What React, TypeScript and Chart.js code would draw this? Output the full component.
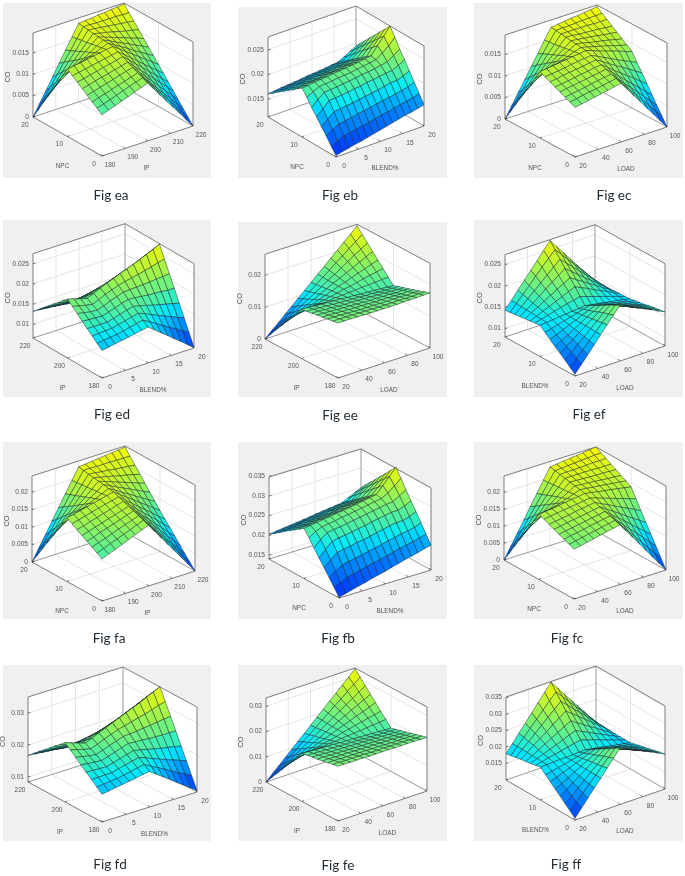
import React, { useEffect, useRef } from "react";
import { Chart, registerables } from "chart.js";

Chart.register(...registerables);

// ---- axis ticks ----
const IP_FINE = [180, 190, 200, 210, 220];
const IP_COARSE = [180, 200, 220];
const NPC = [0, 10, 20];
const BLEND_FINE = [0, 5, 10, 15, 20];
const BLEND_COARSE = [0, 10, 20];
const LOAD = [20, 40, 60, 80, 100];

// ---- CO surfaces in units of 0.0001; rows run along the v axis, columns along the u axis ----
const Z_EA = [
  [96,102,107,113,118,124,129,135,116,96,77,58,39,19,0],
  [105,110,115,120,126,131,136,141,123,105,87,69,50,32,14],
  [113,118,122,127,132,136,141,146,129,112,95,78,62,45,28],
  [122,126,131,135,139,144,148,152,136,121,105,89,73,58,42],
  [131,135,139,143,146,150,154,158,143,129,114,100,85,71,56],
  [140,143,147,150,154,157,161,164,151,137,124,110,97,83,70],
  [148,151,154,157,160,163,166,169,157,145,133,120,108,96,84],
  [157,160,162,165,168,170,173,175,164,153,142,131,120,109,98],
  [135,141,147,153,159,164,170,176,167,158,149,139,130,121,112],
  [112,121,131,140,149,158,168,177,170,162,155,148,140,133,125],
  [90,103,115,128,140,153,166,178,172,167,161,156,150,145,139],
  [67,83,99,115,131,147,163,179,175,172,168,164,160,157,153],
  [45,64,84,103,123,142,162,181,179,177,175,173,171,169,167],
  [22,45,68,91,114,136,159,182,182,181,181,181,181,180,180],
  [0,26,52,78,105,131,157,183,185,186,188,189,191,192,194],
];
const Z_EB = [
  [117,120,123,126,128,131,134,137,140,143,146,149,151,154,157],
  [130,136,142,144,146,149,151,154,157,159,162,165,167,170,174],
  [145,153,160,162,164,167,169,171,174,176,178,181,183,186,191],
  [158,169,179,181,182,184,186,188,190,192,195,197,198,202,208],
  [172,184,196,197,198,200,202,203,206,207,209,211,212,218,225],
  [185,197,207,208,209,211,212,214,216,217,219,221,224,232,241],
  [200,207,213,214,215,217,218,219,221,223,225,227,236,246,259],
  [213,214,216,217,218,220,221,222,224,225,227,229,245,260,276],
  [206,207,209,210,211,213,214,215,217,218,220,221,236,250,264],
  [198,199,201,202,203,205,206,207,209,210,212,214,227,239,253],
  [191,192,194,195,196,198,199,200,202,203,205,206,218,229,241],
  [183,185,186,187,189,190,191,192,194,195,197,198,209,219,230],
  [176,177,179,180,181,182,184,185,186,188,189,190,199,209,218],
  [168,170,171,172,174,175,176,177,179,180,182,183,190,198,207],
  [161,162,164,165,166,167,169,170,171,172,174,175,181,188,195],
];
const Z_EC = [
  [115,118,121,124,127,130,133,136,117,97,78,58,39,19,0],
  [121,124,127,130,132,135,138,141,124,106,89,71,54,36,19],
  [126,129,131,134,137,140,142,145,130,114,99,84,68,53,37],
  [132,135,137,140,142,145,147,150,137,123,110,96,83,69,56],
  [137,139,142,144,147,149,152,154,143,131,120,109,98,86,75],
  [143,145,148,150,152,154,157,159,150,140,131,122,113,103,94],
  [148,150,152,154,157,159,161,163,156,148,141,133,126,119,112],
  [154,156,158,160,162,164,166,168,163,157,152,147,142,136,131],
  [132,137,143,148,153,158,164,169,165,161,157,153,148,144,140],
  [110,119,127,136,145,154,162,171,168,164,161,158,155,151,148],
  [88,100,112,124,136,148,160,172,170,168,166,164,161,159,157],
  [66,81,97,112,128,143,158,174,173,171,170,169,168,166,165],
  [44,63,81,100,119,138,156,175,175,175,175,175,174,174,174],
  [22,44,66,88,111,133,155,177,178,178,179,180,181,181,182],
  [0,25,51,76,102,127,153,178,180,182,184,185,187,189,191],
];
const Z_ED = [
  [134,137,140,143,146,149,152,155,143,130,118,105,93,80,68],
  [145,147,149,151,154,158,162,165,156,146,136,126,117,107,97],
  [156,157,158,159,163,167,171,175,169,161,154,147,140,133,127],
  [167,167,167,167,171,176,181,185,181,177,172,168,164,160,156],
  [178,177,176,175,180,185,191,195,194,192,190,189,188,186,186],
  [190,187,184,183,188,195,200,206,207,208,209,210,212,213,215],
  [201,197,193,190,196,204,210,216,220,224,227,231,235,240,244],
  [212,207,202,198,205,213,220,226,233,239,245,252,259,266,274],
  [201,196,192,188,194,200,206,211,217,223,228,235,242,249,257],
  [189,185,181,178,182,187,192,195,201,206,212,218,225,232,240],
  [178,174,171,168,171,174,178,180,185,190,195,201,208,215,223],
  [166,163,160,158,160,161,164,164,169,174,179,184,191,198,206],
  [155,153,150,148,149,149,150,149,153,157,162,167,174,181,189],
  [143,142,140,138,137,136,135,134,137,141,146,150,157,164,172],
  [132,131,129,128,126,123,121,118,121,125,129,133,140,147,155],
];
const Z_EE = [
  [172,172,172,171,171,170,170,170,170,170,171,171,171,172,172],
  [169,169,169,168,168,167,167,166,166,166,167,166,166,167,167],
  [167,167,166,165,164,163,163,163,162,162,162,162,161,162,161],
  [164,164,163,162,161,160,160,159,158,158,158,157,156,157,156],
  [162,161,160,159,158,157,156,155,154,154,153,153,151,152,150],
  [159,159,157,156,154,153,153,152,151,150,149,148,147,146,145],
  [156,156,154,153,151,150,149,148,147,145,145,143,142,141,140],
  [154,153,151,150,148,147,146,144,143,141,140,139,137,136,134],
  [132,134,135,137,137,139,141,142,144,145,147,148,149,151,152],
  [110,115,118,123,127,132,136,140,145,148,153,158,162,166,170],
  [88,96,102,110,116,124,131,138,146,152,160,167,174,181,188],
  [66,77,86,96,106,116,126,136,147,156,166,176,186,196,206],
  [44,58,70,83,95,108,121,134,147,159,173,186,199,211,224],
  [22,38,53,70,84,101,116,132,148,163,180,195,211,226,242],
  [0,19,37,56,74,93,111,130,149,167,186,204,223,241,260],
];
const Z_EF = [
  [84,102,120,138,157,175,193,211,204,196,189,182,175,167,160],
  [94,110,125,141,157,173,188,204,197,191,184,178,171,165,158],
  [104,117,131,144,158,171,185,198,192,186,180,174,168,162,156],
  [114,125,136,147,158,169,180,191,186,180,175,170,165,159,154],
  [123,132,140,149,158,167,175,184,179,175,170,165,161,156,151],
  [133,139,146,152,158,165,171,177,173,169,165,161,157,153,149],
  [143,147,151,155,159,163,167,171,168,164,161,157,154,150,147],
  [153,155,156,158,159,161,162,164,161,159,156,153,151,148,145],
  [152,156,160,164,168,172,175,179,174,169,164,159,154,149,144],
  [150,156,163,169,176,182,189,195,188,181,173,166,159,151,144],
  [149,158,166,175,184,193,201,210,200,191,181,172,162,153,143],
  [147,158,169,180,192,203,214,225,213,201,189,177,166,154,142],
  [146,159,173,186,200,213,227,240,226,212,198,184,170,156,142],
  [144,160,176,192,209,225,241,256,240,223,207,190,174,157,141],
  [143,161,180,198,216,234,253,271,252,234,215,196,178,159,140],
];
const Z_FA = [
  [120,128,135,143,151,159,166,174,149,124,99,75,50,25,0],
  [129,136,144,151,158,165,173,180,157,133,110,87,64,40,17],
  [138,145,151,158,165,172,178,185,163,142,120,98,76,55,33],
  [147,153,160,166,172,178,185,191,171,151,131,111,90,70,50],
  [155,161,167,173,179,184,190,196,178,159,141,122,104,85,67],
  [164,169,175,180,186,191,197,202,185,168,151,135,118,101,84],
  [173,178,183,188,193,198,202,207,192,176,161,146,131,115,100],
  [182,186,191,195,200,204,209,213,199,186,172,158,145,131,117],
  [156,164,173,181,190,198,206,215,204,192,181,169,158,146,135],
  [130,143,155,168,180,193,205,218,209,199,190,181,172,162,153],
  [104,121,137,154,170,187,203,220,213,206,199,192,185,178,171],
  [78,99,119,140,160,181,201,222,217,213,208,203,199,194,189],
  [52,77,101,126,150,175,200,224,222,219,217,214,212,210,207],
  [26,55,83,112,141,170,198,227,227,226,226,226,226,225,225],
  [0,33,65,98,131,164,196,229,231,233,235,237,239,241,243],
];
const Z_FB = [
  [142,146,151,155,159,164,168,172,177,181,186,190,194,199,203],
  [160,167,175,179,183,187,191,195,199,203,208,211,215,219,224],
  [178,189,199,203,206,210,214,217,221,225,229,233,235,239,246],
  [196,210,224,227,230,234,236,240,244,247,251,254,254,259,267],
  [213,230,245,249,251,254,257,260,264,267,270,273,273,279,287],
  [231,248,260,263,265,268,271,274,277,280,283,286,288,298,308],
  [250,261,268,271,273,277,279,282,285,288,291,294,303,316,330],
  [267,270,272,275,277,280,282,285,288,291,294,297,315,333,351],
  [258,261,263,266,268,270,272,275,278,281,284,287,303,320,337],
  [249,251,253,256,258,261,263,266,269,271,274,277,292,307,322],
  [240,242,244,247,249,251,253,256,259,261,264,267,280,294,308],
  [231,233,235,237,239,242,244,247,249,251,254,257,269,281,293],
  [221,223,225,228,230,232,234,237,239,242,244,246,257,268,279],
  [212,214,216,218,220,222,225,227,230,232,234,236,246,255,265],
  [203,205,207,209,211,213,215,218,220,222,224,226,234,242,250],
];
const Z_FC = [
  [147,151,155,159,164,168,172,176,151,126,101,75,50,25,0],
  [153,157,161,165,169,173,177,181,159,137,115,93,71,49,27],
  [160,164,167,171,175,179,182,186,167,148,129,111,92,73,54],
  [166,170,173,177,180,184,187,191,175,160,144,128,112,97,81],
  [173,176,180,183,186,189,193,196,183,171,158,145,132,120,107],
  [179,182,185,188,192,195,198,201,191,182,172,163,153,144,134],
  [186,189,192,195,197,200,203,206,200,193,187,180,174,167,161],
  [192,195,197,200,203,206,208,211,208,204,201,198,195,191,188],
  [165,172,179,186,193,200,207,214,212,209,207,205,202,200,197],
  [137,148,160,171,183,194,205,217,215,214,212,210,208,207,205],
  [110,126,141,157,173,189,204,220,219,218,217,216,216,215,214],
  [82,102,122,142,163,183,203,223,223,223,223,223,222,222,222],
  [55,79,104,128,153,177,202,226,227,227,228,229,230,230,231],
  [27,56,85,113,142,171,200,229,230,232,233,235,236,238,239],
  [0,33,66,99,133,166,199,232,234,237,239,241,243,246,248],
];
const Z_FD = [
  [171,174,178,181,185,188,192,195,180,165,150,134,119,104,89],
  [185,187,189,191,195,199,204,208,196,185,173,161,149,138,126],
  [199,199,200,200,206,211,216,221,213,204,196,187,180,172,164],
  [213,212,211,210,216,222,228,234,229,224,219,214,210,206,201],
  [227,224,222,220,226,233,240,247,245,244,242,241,240,240,239],
  [242,237,233,230,237,245,252,260,261,263,266,268,271,274,276],
  [256,250,244,239,247,256,264,272,278,283,289,294,301,308,313],
  [270,262,255,248,257,267,276,285,294,303,312,321,331,341,351],
  [255,248,242,236,243,251,258,266,274,282,291,299,309,319,329],
  [241,234,229,223,229,235,241,246,254,261,269,277,287,298,308],
  [226,220,216,211,215,219,223,227,234,240,248,255,265,276,286],
  [211,206,203,198,201,203,206,208,214,219,226,233,243,254,265],
  [197,193,190,186,187,187,188,189,193,199,205,211,222,233,243],
  [182,179,176,174,173,171,171,169,173,178,183,189,200,211,222],
  [167,165,163,161,159,155,153,150,153,157,162,167,178,189,200],
];
const Z_FE = [
  [217,217,216,216,216,215,215,215,215,214,214,214,214,213,213],
  [213,213,212,212,212,211,210,210,210,209,209,209,208,207,207],
  [209,209,208,207,207,206,206,205,205,204,203,203,203,202,201],
  [205,205,204,203,203,202,201,200,200,199,198,198,197,196,195],
  [201,201,200,199,198,197,196,195,195,194,193,192,192,190,189],
  [198,197,196,194,194,193,192,191,190,189,188,187,186,185,184],
  [194,193,191,190,189,188,187,186,185,183,182,181,180,179,178],
  [190,189,187,186,185,184,182,181,180,178,177,176,175,173,172],
  [163,165,167,170,172,175,176,179,181,183,185,188,190,192,195],
  [136,142,147,153,159,165,170,176,183,188,194,200,206,211,217],
  [109,118,127,137,146,156,164,174,184,193,202,212,221,230,240],
  [81,95,107,120,133,146,158,172,185,198,211,224,237,249,262],
  [54,71,87,104,120,137,153,169,186,202,219,235,252,268,285],
  [27,48,67,87,107,128,147,167,188,207,228,247,268,287,308],
  [0,24,47,71,94,118,141,165,189,212,236,259,283,306,330],
];
const Z_FF = [
  [104,128,152,176,199,223,247,271,262,252,243,234,225,215,206],
  [118,139,159,180,200,221,241,262,253,245,236,228,219,211,202],
  [131,148,166,183,200,217,235,252,244,237,229,221,213,206,198],
  [145,159,173,187,201,215,229,243,236,229,222,215,208,201,194],
  [158,169,179,190,201,212,222,233,227,221,215,209,203,197,191],
  [172,179,187,194,202,209,217,224,219,213,208,203,198,192,187],
  [185,189,193,197,202,206,210,214,210,205,201,196,192,188,183],
  [199,200,201,202,202,203,204,205,201,198,194,190,186,183,179],
  [196,200,205,209,213,218,222,226,219,213,206,199,192,186,179],
  [193,201,208,216,223,231,239,246,236,227,217,208,198,189,179],
  [190,201,212,223,234,245,256,267,254,242,229,217,204,192,179],
  [188,202,217,231,245,260,274,288,273,258,243,227,212,197,180],
  [185,203,220,238,256,274,291,309,291,272,254,236,217,198,180],
  [182,203,224,245,266,287,308,329,308,286,265,244,223,201,180],
  [179,203,228,252,277,301,326,350,326,301,277,253,229,204,180],
];
const Z_UNIT = 0.0001;

// ---- panels: text and data ----
const CAPTIONS = ["Fig ea","Fig eb","Fig ec","Fig ed","Fig ee","Fig ef","Fig fa","Fig fb","Fig fc","Fig fd","Fig fe","Fig ff"];
const TABLES = [Z_EA,Z_EB,Z_EC,Z_ED,Z_EE,Z_EF,Z_FA,Z_FB,Z_FC,Z_FD,Z_FE,Z_FF];
const U_NAMES = ["IP","BLEND%","LOAD","BLEND%","LOAD","LOAD","IP","BLEND%","LOAD","BLEND%","LOAD","LOAD"];
const V_NAMES = ["NPC","NPC","NPC","IP","IP","BLEND%","NPC","NPC","NPC","IP","IP","BLEND%"];
const U_TICKS = [IP_FINE,BLEND_FINE,LOAD,BLEND_FINE,LOAD,LOAD,IP_FINE,BLEND_FINE,LOAD,BLEND_FINE,LOAD,LOAD];
const V_TICKS = [NPC,NPC,NPC,IP_COARSE,IP_COARSE,BLEND_COARSE,NPC,NPC,NPC,IP_COARSE,IP_COARSE,BLEND_COARSE];
const Z_TICKS = [
  [0,0.005,0.01,0.015],[0.015,0.02,0.025],[0,0.005,0.01,0.015],
  [0.01,0.015,0.02,0.025],[0,0.01,0.02],[0.01,0.015,0.02,0.025],
  [0,0.005,0.01,0.015,0.02],[0.015,0.02,0.025,0.03,0.035],[0,0.005,0.01,0.015,0.02],
  [0.01,0.02,0.03],[0,0.01,0.02,0.03],[0.015,0.02,0.025,0.03,0.035],
];
const Z_LOW = [0,0.0114,0,0.0066,0,0.008,0,0.014,0,0.0084,0,0.0099];
const Z_HIGH = [0.0196,0.0276,0.0195,0.0275,0.0265,0.0273,0.0246,0.0348,0.0248,0.035,0.0333,0.0352];
const COLOR_GAMMA = [1,1.22,1,1.1,1.1,1,1,1.22,1,1.1,1.1,1];

// ---- layout (page pixels): [front x, front y, right x, right y, left x, left y, box height] ----
const BOXES = [
  [102,156,193,126,33,117,84],[336,157,424,126,268,117,80],[575,157,667,127,505,119,84],
  [102,378,194,348,33,338,84.3],[338,378,430,348,265,339,84.7],[575,376,665,346,505,337,82.3],
  [102,601,195,571,32,562,86],[339,598,431,570,269,559,82],[574,599,666,570,504,560,84],
  [102,822,197,792,28,782,85],[338,821,427,791,266,782,84],[575,820,665,789,506,780,83],
];
// grey panel [x0,y0,x1,y1]
const RECTS = [
  [3,3,211,178],[238,7,447,178],[474,3,683,178],
  [3,220,211,397],[238,222,447,397],[474,220,683,397],
  [3,442,211,619],[238,442,447,619],[474,442,683,619],
  [3,665,211,841],[238,665,447,841],[474,665,683,841],
];
const CAPTION_POS = [
  [111,195],[340,195],[614,195],[112,414],[340,415],[589,414],
  [109,638],[338,638],[567,638],[110,864],[338,865],[566,864],
];
// canvas placement
const COLS = [[0,230],[230,230],[460,225]];
const ROWS = [[0,215],[215,220],[435,225],[660,216]];

const STOPS: [number, number[]][] = [
  [0,[0,50,255]],[0.2,[0,140,255]],[0.38,[0,235,255]],[0.5,[70,240,170]],[0.72,[155,245,80]],[1,[250,250,0]],
];
function ramp(t: number) {
  const c = Math.max(0, Math.min(1, t));
  for (let i = 1; i < STOPS.length; i++) {
    if (c <= STOPS[i][0]) {
      const [a, ca] = STOPS[i - 1];
      const [b, cb] = STOPS[i];
      const k = (c - a) / (b - a);
      return `rgb(${ca.map((x, j) => Math.round(x + (cb[j] - x) * k)).join(",")})`;
    }
  }
  return "rgb(250,250,0)";
}

const facePlugin = {
  id: "faceFill",
  beforeDraw(chart: any) {
    const { ctx, scales, options } = chart;
    const r = options.plugins.faceFill.rect;
    const x0 = scales.x.getPixelForValue(r[0]), x1 = scales.x.getPixelForValue(r[2]);
    const y0 = scales.y.getPixelForValue(r[1]), y1 = scales.y.getPixelForValue(r[3]);
    ctx.save();
    ctx.fillStyle = "#f0f0f0";
    ctx.fillRect(x0, y0, x1 - x0, y1 - y0);
    ctx.restore();
  },
  beforeDatasetDraw(chart: any, args: any) {
    const ds = chart.data.datasets[args.index];
    if (!ds.faceColor) return;
    const pts = args.meta.data;
    const { ctx } = chart;
    ctx.save();
    ctx.beginPath();
    pts.forEach((p: any, i: number) => (i ? ctx.lineTo(p.x, p.y) : ctx.moveTo(p.x, p.y)));
    ctx.closePath();
    ctx.fillStyle = ds.faceColor;
    ctx.fill();
    ctx.restore();
  },
  afterDraw(chart: any) {
    const { ctx, scales, options } = chart;
    const labels = options.plugins.faceFill.labels;
    ctx.save();
    ctx.fillStyle = "#555";
    labels.forEach((l: any) => {
      ctx.save();
      ctx.translate(scales.x.getPixelForValue(l.x), scales.y.getPixelForValue(l.y));
      if (l.rotate) ctx.rotate(-Math.PI / 2);
      ctx.font = `${l.size}px "Liberation Sans"`;
      ctx.textAlign = l.align;
      ctx.textBaseline = "middle";
      ctx.fillText(l.text, 0, 0);
      ctx.restore();
    });
    ctx.restore();
  },
};

function buildPanel(i: number) {
  const [fx, fy, rx, ry, lx, ly, H] = BOXES[i];
  const zLo = Z_LOW[i], zHi = Z_HIGH[i];
  const P = (u: number, v: number, z: number) => ({
    x: fx + u * (rx - fx) + v * (lx - fx),
    y: fy + u * (ry - fy) + v * (ly - fy) - ((z - zLo) / (zHi - zLo)) * H,
  });
  const uT = U_TICKS[i], vT = V_TICKS[i], zT = Z_TICKS[i];
  const uPos = (t: number) => (t - uT[0]) / (uT[uT.length - 1] - uT[0]);
  const vPos = (t: number) => (t - vT[0]) / (vT[vT.length - 1] - vT[0]);
  const back: any[] = [];
  const line = (pts: any[], color: string, width: number) =>
    back.push({ data: pts, borderColor: color, borderWidth: width, pointRadius: 0, showLine: true, tension: 0 });
  const face = (pts: any[], color: string) =>
    back.push({ data: pts, faceColor: color, borderColor: color, borderWidth: 0, pointRadius: 0, showLine: true, tension: 0 });

  face([P(0,1,zLo),P(1,1,zLo),P(1,1,zHi),P(0,1,zHi)], "#ffffff");
  face([P(1,0,zLo),P(1,1,zLo),P(1,1,zHi),P(1,0,zHi)], "#ffffff");
  face([P(0,0,zLo),P(1,0,zLo),P(1,1,zLo),P(0,1,zLo)], "#ffffff");

  const GRID = "#dedede";
  uT.forEach((t) => {
    const u = uPos(t);
    if (u > 0 && u < 1) line([P(u,0,zLo),P(u,1,zLo),P(u,1,zHi)], GRID, 0.8);
  });
  vT.forEach((t) => {
    const v = vPos(t);
    if (v > 0 && v < 1) line([P(0,v,zLo),P(1,v,zLo),P(1,v,zHi)], GRID, 0.8);
  });
  zT.forEach((t) => {
    if (t > zLo) line([P(0,1,t),P(1,1,t),P(1,0,t)], GRID, 0.8);
  });

  const EDGE = "#7d7d7d";
  line([P(0,1,zHi),P(1,1,zHi),P(1,0,zHi)], EDGE, 1);
  line([P(0,1,zLo),P(0,1,zHi)], EDGE, 1);
  line([P(1,0,zLo),P(1,0,zHi)], EDGE, 1);
  line([P(1,1,zLo),P(1,1,zHi)], EDGE, 0.8);
  line([P(0,1,zLo),P(1,1,zLo),P(1,0,zLo)], EDGE, 0.8);
  line([P(0,1,zLo),P(0,0,zLo),P(1,0,zLo)], EDGE, 1);

  // tick marks
  uT.forEach((t) => {
    const a = P(uPos(t),0,zLo);
    line([a,{ x: a.x - 1.5, y: a.y - 2 }], "#444", 0.7);
  });
  vT.forEach((t) => {
    const a = P(0,vPos(t),zLo);
    line([a,{ x: a.x + 2, y: a.y - 1 }], "#444", 0.7);
  });
  zT.forEach((t) => {
    const a = P(0,1,t);
    line([a,{ x: a.x + 2.5, y: a.y - 0.5 }], "#444", 0.7);
  });

  const table = TABLES[i];
  const n = table.length - 1;
  const zAll = table.flat();
  const zMin = Math.min(...zAll), zMax = Math.max(...zAll);
  for (let r = n - 1; r >= 0; r--) {
    for (let c = n - 1; c >= 0; c--) {
      const a = table[r][c], b = table[r][c + 1], d = table[r + 1][c + 1], e = table[r + 1][c];
      const avg = (a + b + d + e) / 4;
      const pts = [
        P(c / n, r / n, a * Z_UNIT), P((c + 1) / n, r / n, b * Z_UNIT),
        P((c + 1) / n, (r + 1) / n, d * Z_UNIT), P(c / n, (r + 1) / n, e * Z_UNIT), P(c / n, r / n, a * Z_UNIT),
      ];
      back.push({
        data: pts, faceColor: ramp(Math.pow((avg - zMin) / (zMax - zMin), COLOR_GAMMA[i])),
        borderColor: "rgba(25,35,40,0.68)", borderWidth: 0.7,
        pointRadius: 0, showLine: true, tension: 0,
      });
    }
  }

  const labels: any[] = [];
  zT.forEach((t) => {
    const a = P(0,1,t);
    labels.push({ text: String(t), x: a.x - 4, y: a.y, align: "right", size: 6.6 });
  });
  const mid = P(0,1,(zLo + zHi) / 2);
  labels.push({ text: "CO", x: mid.x - 25, y: mid.y + 2, align: "center", size: 7.4, rotate: true });
  uT.forEach((t) => {
    const a = P(uPos(t),0,zLo);
    labels.push({ text: String(t), x: a.x + 8, y: a.y + 9, align: "center", size: 6.6 });
  });
  vT.forEach((t) => {
    const a = P(0,vPos(t),zLo);
    labels.push({ text: String(t), x: a.x - 8, y: a.y + 8, align: "center", size: 6.6 });
  });
  const um = P(0.5,0,zLo), vm = P(0,0.5,zLo);
  labels.push({ text: U_NAMES[i], x: um.x + (U_NAMES[i] === "IP" ? -1 : 5), y: um.y + 27, align: "center", size: 6.4 });
  labels.push({ text: V_NAMES[i], x: vm.x - 5, y: vm.y + 30, align: "center", size: 6.4 });

  return { datasets: back.reverse(), labels };
}

function Panel({ index }: { index: number }) {
  const ref = useRef<HTMLCanvasElement | null>(null);
  const [cx, cw] = COLS[index % 3];
  const [cy, ch] = ROWS[Math.floor(index / 3)];
  useEffect(() => {
    const { datasets, labels } = buildPanel(index);
    const chart = new Chart(ref.current as HTMLCanvasElement, {
      type: "scatter",
      data: { datasets },
      plugins: [facePlugin],
      options: {
        animation: false,
        responsive: false,
        maintainAspectRatio: false,
        events: [],
        layout: { padding: 0 },
        scales: {
          x: { type: "linear", display: false, min: cx, max: cx + cw },
          y: { type: "linear", display: false, reverse: true, min: cy, max: cy + ch },
        },
        plugins: {
          legend: { display: false },
          title: { display: false },
          tooltip: { enabled: false },
          faceFill: { rect: RECTS[index], labels },
        },
      },
    } as any);
    return () => chart.destroy();
  }, [index]);
  const [capX, capY] = CAPTION_POS[index];
  return (
    <>
      <canvas
        ref={ref}
        width={cw}
        height={ch}
        style={{ position: "absolute", left: cx, top: cy, width: cw, height: ch, filter: "blur(0.35px)" }}
      />
      <div
        style={{
          position: "absolute", left: capX - 50, top: capY - 11, width: 100, height: 22,
          textAlign: "center", font: '13.5px/22px Lato, "Open Sans", sans-serif', color: "#1f2a33",
        }}
      >
        {CAPTIONS[index]}
      </div>
    </>
  );
}

export default function App() {
  return (
    <div style={{ position: "absolute", left: 0, top: 0, width: 685, height: 876, background: "#fff", overflow: "hidden" }}>
      {CAPTIONS.map((_, i) => (
        <Panel key={i} index={i} />
      ))}
    </div>
  );
}
